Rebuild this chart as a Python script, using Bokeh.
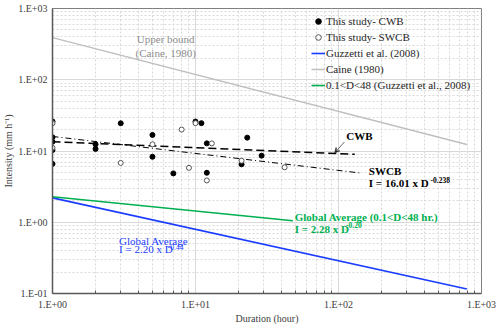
from bokeh.plotting import figure
from bokeh.models import Range1d, FixedTicker, Legend, LegendItem, Label, Arrow, VeeHead
from bokeh.embed import file_html
from bokeh.resources import INLINE

# ---- data ----
cwb_dur = [1, 1, 1, 1, 1, 2, 2, 3, 5, 5, 7, 10, 11, 12, 12, 21, 23, 29]
cwb_int = [26, 15.6, 13.5, 10.3, 6.6, 12.4, 10.7, 24.5, 16.8, 8.3, 4.85, 25.9, 24.6, 12.8, 4.95, 6.5, 15.4, 8.6]
swcb_dur = [1, 1, 3, 5, 8, 9, 10, 12, 13, 21, 42]
swcb_int = [24.5, 11.1, 6.8, 12.4, 20, 5.8, 24.6, 3.86, 12.8, 7.3, 5.9]

cwb_fit_dur = [1, 130]
cwb_fit_int = [13.5, 9.0]
swcb_fit_dur = [1, 140]
swcb_fit_int = [16.01, 4.93]
caine_dur = [1, 790]
caine_int = [390, 12.3]
guz_dur = [1, 790]
guz_int = [2.20, 0.116]
guz48_dur = [1, 48]
guz48_int = [2.28, 1.05]

x_major = [1, 10, 100, 1000]
y_major = [0.1, 1, 10, 100, 1000]
x_minor = [m * d for d in [1, 10, 100] for m in range(2, 10)]
y_minor = [m * d for d in [0.1, 1, 10, 100] for m in range(2, 10)]
x_tick_labels = {1: "1.E+00", 10: "1.E+01", 100: "1.E+02", 1000: "1.E+03"}
y_tick_labels = {0.1: "1.E-01", 1: "1.E+00", 10: "1.E+01", 100: "1.E+02", 1000: "1.E+03"}

FONT = "'Liberation Serif', 'Times New Roman', serif"
BLUE = "#1a3cff"
GREEN = "#00b050"
GRAY = "#bfbfbf"

p = figure(frame_width=429, frame_height=285, x_axis_type="log", y_axis_type="log",
           x_range=Range1d(1, 1000), y_range=Range1d(0.1, 1000),
           output_backend="svg", toolbar_location=None,
           min_border_left=44, min_border_right=16, min_border_top=8, min_border_bottom=20)

p.xaxis.ticker = FixedTicker(ticks=x_major, minor_ticks=x_minor)
p.yaxis.ticker = FixedTicker(ticks=y_major, minor_ticks=y_minor)
p.xaxis.major_label_overrides = x_tick_labels
p.yaxis.major_label_overrides = y_tick_labels

for ax in (p.xaxis, p.yaxis):
    ax.axis_line_color = "#595959"
    ax.axis_line_width = 1.5
    ax.major_label_text_font = FONT
    ax.major_label_text_font_size = "10px"
    ax.major_label_text_color = "#404040"
    ax.axis_label_text_font = FONT
    ax.axis_label_text_font_size = "10px"
    ax.axis_label_text_font_style = "normal"
    ax.axis_label_text_color = "#404040"
    ax.major_tick_out = 0
    ax.major_tick_in = 0
    ax.minor_tick_out = 0
    ax.minor_tick_in = 0
p.xaxis.minor_tick_in = 3
p.xaxis.minor_tick_line_color = "#595959"
p.xaxis.major_label_standoff = 5
p.yaxis.major_label_standoff = 5
p.xaxis.axis_label = "Duration (hour)"
p.yaxis.axis_label = "Intensity (mm h\u207b\u00b9)"
p.xaxis.axis_label_standoff = 0
p.yaxis.axis_label_standoff = 1

for g in (p.xgrid, p.ygrid):
    g.grid_line_color = "#d9d9d9"
    g.grid_line_width = 1
    g.minor_grid_line_color = "#d9d9d9"
    g.minor_grid_line_dash = "2 2"
p.outline_line_color = "#808080"
p.outline_line_width = 1

# lines
r_caine = p.line(caine_dur, caine_int, line_color=GRAY, line_width=1.5)
r_guz = p.line(guz_dur, guz_int, line_color=BLUE, line_width=1.6)
r_guz48 = p.line(guz48_dur, guz48_int, line_color=GREEN, line_width=1.6)
p.line(cwb_fit_dur, cwb_fit_int, line_color="black", line_width=1.5, line_dash="8 4")
p.line(swcb_fit_dur, swcb_fit_int, line_color="black", line_width=1, line_dash="6 3 1 3")

# points
r_cwb = p.scatter(cwb_dur, cwb_int, marker="circle", size=5, fill_color="black", line_color="black")
r_swcb = p.scatter(swcb_dur, swcb_int, marker="circle", size=5, fill_color="white", line_color="#555555")

legend = Legend(items=[
    LegendItem(label="This study- CWB", renderers=[r_cwb]),
    LegendItem(label="This study- SWCB", renderers=[r_swcb]),
    LegendItem(label="Guzzetti et al. (2008)", renderers=[r_guz]),
    LegendItem(label="Caine (1980)", renderers=[r_caine]),
    LegendItem(label="0.1<D<48 (Guzzetti et al., 2008)", renderers=[r_guz48]),
], location=(259, 201))
legend.label_text_font = FONT
legend.label_text_font_size = "11px"
legend.label_text_color = "#262626"
legend.glyph_width = 14
legend.glyph_height = 14
legend.label_height = 14
legend.label_standoff = 1
legend.spacing = 2
legend.padding = 0
legend.margin = 0
legend.border_line_color = None
legend.background_fill_alpha = 0
p.add_layout(legend)

def lab(x, y, t, color="black", size="11px", bold=False, align="left"):
    p.add_layout(Label(x=x, y=y, text=t, text_color=color, text_font=FONT,
                       text_font_size=size, text_font_style="bold" if bold else "normal",
                       text_align=align, text_baseline="middle"))

lab(6.19, 371, "Upper bound", color="#8c8c8c", align="center")
lab(6.19, 240, "(Caine, 1980)", color="#8c8c8c", align="center")
lab(140, 16.2, "CWB", bold=True, align="center")
p.add_layout(Arrow(x_start=110, y_start=13.4, x_end=94, y_end=9.4, line_width=0.8,
                   line_color="#404040",
                   end=VeeHead(size=5, line_width=0.8, line_color="#404040")))
lab(163, 5.21, "SWCB", bold=True)
lab(163, 3.56, "I = 16.01 x D", bold=True)
lab(440, 3.96, "-0.238", bold=True, size="7.5px")
lab(49.4, 1.19, "Global Average (0.1<D<48 hr.)", color=GREEN, bold=True)
lab(49.4, 0.817, "I = 2.28 x D", color=GREEN, bold=True)
lab(113, 0.909, "-0.20", color=GREEN, bold=True, size="7.5px")
lab(2.92, 0.547, "Global Average", color=BLUE)
lab(2.92, 0.419, "I = 2.20 x D", color=BLUE)
lab(6.4, 0.451, "-0.44", color=BLUE, size="7.5px")

open("out.html", "w").write(file_html(p, INLINE))
